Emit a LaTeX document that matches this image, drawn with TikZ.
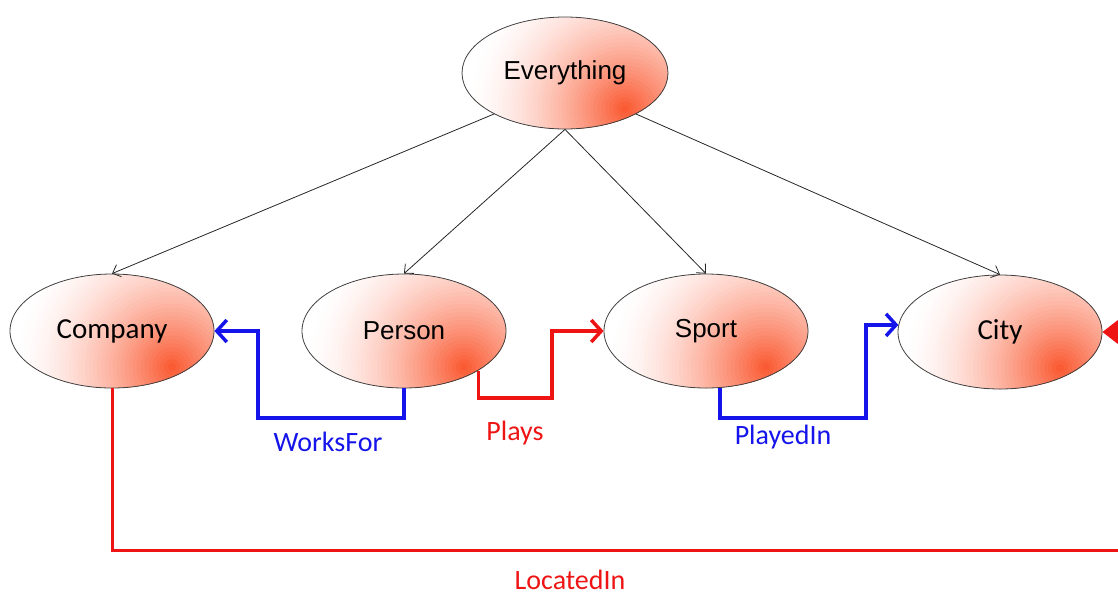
\documentclass[tikz,border=0pt]{standalone}
\usepackage{fontspec}
\setmainfont{Liberation Sans}
\newfontfamily\calfont{Carlito}
\usetikzlibrary{arrows.meta,shapes.geometric}
\definecolor{orng}{RGB}{250,88,48}
\definecolor{bl}{RGB}{20,20,235}
\definecolor{rd}{RGB}{238,20,20}
\begin{document}
\begin{tikzpicture}[x=1pt,y=-1pt,
  ell/.style={ellipse, draw=black!75, line width=0.8pt, fill=white,
    path picture={
      \coordinate (gc) at ([shift={(60,36)}]path picture bounding box.center);
      \foreach \k in {0,...,39}{
        \pgfmathsetmacro\rr{158*(1-\k/40)}
        \pgfmathsetmacro\pp{100*pow((\k+0.5)/40,1.6)}
        \fill[orng!\pp!white] (gc) circle (\rr pt);
      }},
    minimum width=204, minimum height=114, inner sep=0, text=black},
  arial/.style={font=\fontsize{26}{30}\selectfont},
  calib/.style={font=\calfont\fontsize{29}{33}\selectfont},
  lab/.style={font=\calfont\fontsize{28}{32}\selectfont, inner sep=0},
  isa/.style={draw=black!85, line width=0.8pt, -{Straight Barb[length=7pt,width=13pt]}},
  bluec/.style={draw=bl, line width=3.5pt, -{Straight Barb[length=10pt,width=22pt]}},
  redc/.style={draw=rd, line width=3.5pt, -{Straight Barb[length=10pt,width=22pt]}},
  locc/.style={draw=rd, line width=3pt, -{Triangle[length=16pt,width=24pt]}}]
\clip (0,0) rectangle (1118,595);
\node[ell, arial, minimum width=206, minimum height=112] (every) at (565,73) {Everything};
\node[ell, calib] (company) at (112,331) {Company};
\node[ell, arial] (person) at (404,331) {Person};
\node[ell, arial] (sport) at (706,331) {Sport};
\node[ell, calib] (city) at (1000,332) {City};

\draw[isa] (every.210) -- (company.north);
\draw[isa] (every.south) -- (person.north);
\draw[isa] (every.south) -- (sport.north);
\draw[isa] (every.330) -- (city.north);

\draw[bluec] (person.south) |- (258,418) |- (company.east);
\draw[redc] (person.-28) |- (552,398) |- (sport.west);
\draw[bluec] (sport.-76) |- (866,418) |- (city.176);
\draw[locc] (company.south) |- (1160,550) |- (city.east);

\node[lab, text=bl] (wf) at (328,442) {WorksFor};
\node[lab, text=rd] (pl) at (515,433) {Plays};
\node[lab, text=bl] (pi) at (783,437) {PlayedIn};
\node[lab, text=rd] (li) at (570,580) {LocatedIn};
\end{tikzpicture}
\end{document}
